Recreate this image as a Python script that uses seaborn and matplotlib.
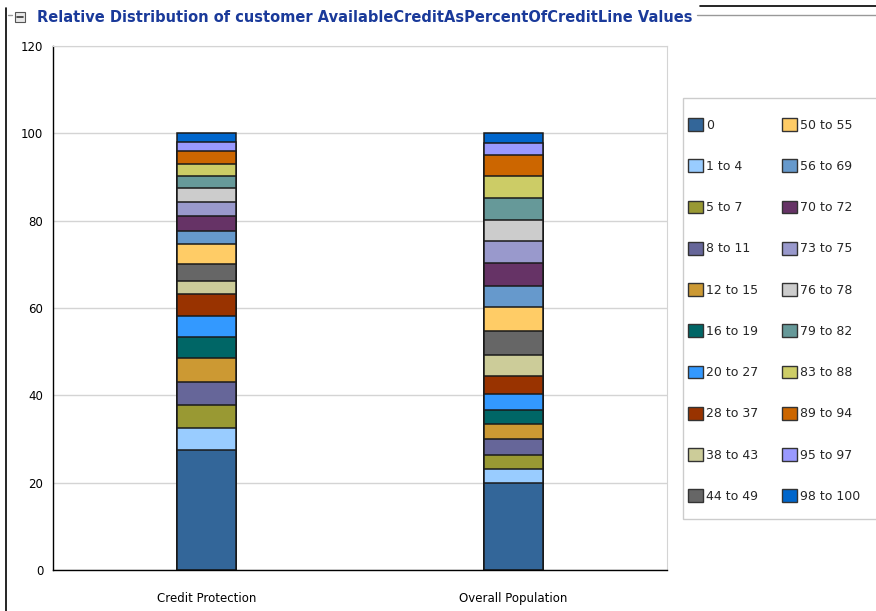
import pandas as pd
import numpy as np
import matplotlib.pyplot as plt
import matplotlib.patches as mpatches
from matplotlib.lines import Line2D
import seaborn as sns

# data
groups = ['Credit Protection', 'Overall Population']
bins = ['0', '1 to 4', '5 to 7', '8 to 11', '12 to 15', '16 to 19', '20 to 27',
        '28 to 37', '38 to 43', '44 to 49', '50 to 55', '56 to 69', '70 to 72',
        '73 to 75', '76 to 78', '79 to 82', '83 to 88', '89 to 94', '95 to 97',
        '98 to 100']
credit_protection = [27.5, 5.1, 5.2, 5.3, 5.4, 4.8, 4.9, 5.0, 3.0, 3.8,
                     4.7, 2.9, 3.5, 3.1, 3.3, 2.7, 2.8, 3.0, 2.1, 1.9]
overall_population = [19.9, 3.2, 3.3, 3.6, 3.4, 3.3, 3.7, 4.1, 4.8, 5.5,
                      5.4, 4.9, 5.1, 5.1, 4.8, 5.1, 5.0, 4.9, 2.6, 2.3]
colors = ['#336699', '#99CCFF', '#999933', '#666699', '#CC9933', '#006666',
          '#3399FF', '#993300', '#CCCC99', '#666666', '#FFCC66', '#6699CC',
          '#663366', '#9999CC', '#CCCCCC', '#669999', '#CCCC66', '#CC6600',
          '#9999FF', '#0066CC']

sns.set_style('white')
plt.rcParams['font.family'] = ['DejaVu Sans']

df = pd.DataFrame({'Credit Protection': credit_protection,
                   'Overall Population': overall_population}, index=bins)
cum = df.cumsum()

fig = plt.figure(figsize=(8.76, 6.11), dpi=100)
ax = fig.add_axes([53/876, 41/611, 614/876, 524/611])

# stacked bars: draw cumulative totals from the top layer down
for b, c in reversed(list(zip(bins, colors))):
    row = pd.DataFrame({'group': groups, 'value': cum.loc[b, groups].values})
    sns.barplot(data=row, x='group', y='value', color=c, width=0.19,
                edgecolor='#1a1a1a', linewidth=1.1, saturation=1, ax=ax,
                order=groups)

ax.set_xlim(-0.5, 1.5)
ax.set_ylim(0, 120)
ax.set_yticks(np.arange(0, 121, 20))
ax.set_xlabel('')
ax.set_ylabel('')
ax.grid(axis='y', color='#d4d4d4', linewidth=1)
ax.set_axisbelow(True)
ax.tick_params(axis='both', length=0, labelsize=8.5, colors='black')
ax.tick_params(axis='x', pad=16)
ax.tick_params(axis='y', pad=7)
for s in ['top', 'right']:
    ax.spines[s].set_color('#d4d4d4')
for s in ['left', 'bottom']:
    ax.spines[s].set_color('black')
    ax.spines[s].set_linewidth(1)

# legend frame drawn separately, legend itself frameless
fig.patches.append(mpatches.Rectangle((683/876, 1 - 519/611), 200/876, 421/611,
                                      transform=fig.transFigure, facecolor='white',
                                      edgecolor='#cccccc', linewidth=1, zorder=0))
handles = [mpatches.Patch(facecolor=c, edgecolor='#333333', linewidth=1)
           for c in colors]
leg = fig.legend(handles, bins, loc='upper left', ncol=2,
                 bbox_to_anchor=(688/876, 1 - 118/611), frameon=False,
                 fontsize=9, handlelength=1.2, handleheight=1.2,
                 handletextpad=0.25, labelspacing=2.21, columnspacing=1.92,
                 borderpad=0, borderaxespad=0)

# title / group box decoration
fig.text(37/876, 1 - 17/611, 'Relative Distribution of customer AvailableCreditAsPercentOfCreditLine Values',
         fontsize=10.55, fontweight='bold', color='#1a3a9a', va='center', ha='left')
fig.patches.append(mpatches.Rectangle((15/876, 1 - 22/611), 10/876, 10/611,
                                      transform=fig.transFigure, facecolor='#e8e8e8',
                                      edgecolor='#555555', linewidth=0.8))
fig.lines.append(Line2D([17/876, 23/876], [1 - 17/611, 1 - 17/611],
                        transform=fig.transFigure, color='#333333', linewidth=1.2))
fig.lines.append(Line2D([6/876, 6/876], [0, 1 - 8/611],
                        transform=fig.transFigure, color='black', linewidth=1.2))
fig.lines.append(Line2D([8/876, 12/876], [1 - 15/611, 1 - 15/611],
                        transform=fig.transFigure, color='#999999', linewidth=1))
fig.lines.append(Line2D([697/876, 1], [1 - 15/611, 1 - 15/611],
                        transform=fig.transFigure, color='#999999', linewidth=1))
fig.lines.append(Line2D([700/876, 1], [1 - 6/611, 1 - 6/611],
                        transform=fig.transFigure, color='black', linewidth=1.2))

fig.savefig('out.png', dpi=100)
